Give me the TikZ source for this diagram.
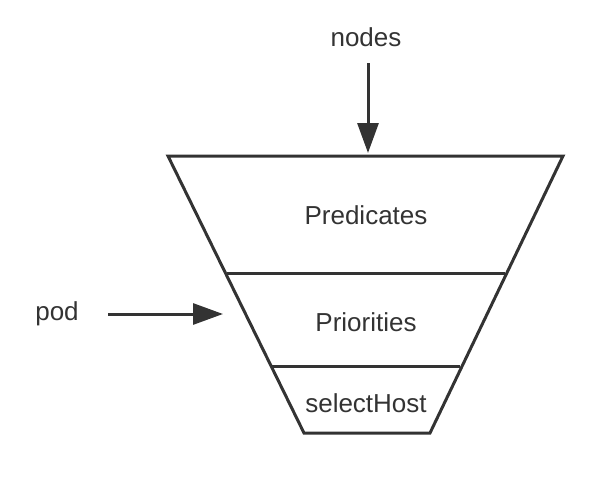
\documentclass[tikz,border=0pt]{standalone}
\usepackage{fontspec}
\setmainfont{Liberation Sans}
\usetikzlibrary{arrows.meta}
\definecolor{ink}{HTML}{333333}
\begin{document}
\begin{tikzpicture}[x=1pt,y=-1pt,
  edge/.style={draw=ink,line width=3pt,line join=miter},
  flow/.style={draw=ink,line width=3pt,-{Triangle[length=30pt,width=21pt]}},
  lbl/.style={text=ink,font=\fontsize{26}{30}\selectfont,inner sep=0pt}]
\useasboundingbox (0,0) rectangle (614,498);
\coordinate (tl) at (168,156);
\coordinate (tr) at (563,156);
\coordinate (ml1) at (226.5,273.5);
\coordinate (mr1) at (505,273.5);
\coordinate (ml2) at (272,366);
\coordinate (mr2) at (460,366);
\coordinate (bl) at (304,433);
\coordinate (br) at (430,433);
\draw[edge] (tl) -- (tr) -- (br) -- (bl) -- cycle;
\draw[edge] (ml1) -- (mr1);
\draw[edge] (ml2) -- (mr2);
\node[lbl] (pred) at (366,215) {Predicates};
\node[lbl] (prio) at (366,322) {Priorities};
\node[lbl] (sel) at (366,403) {selectHost};
\node[lbl] (nodes) at (366,37) {nodes};
\node[lbl] (pod) at (57,314) {pod};
\coordinate (ns) at (368,63);
\coordinate (ne) at (368,153);
\coordinate (ps) at (108,314);
\coordinate (pe) at (223,314);
\draw[flow] (ns) -- (ne);
\draw[flow] (ps) -- (pe);
\end{tikzpicture}
\end{document}
